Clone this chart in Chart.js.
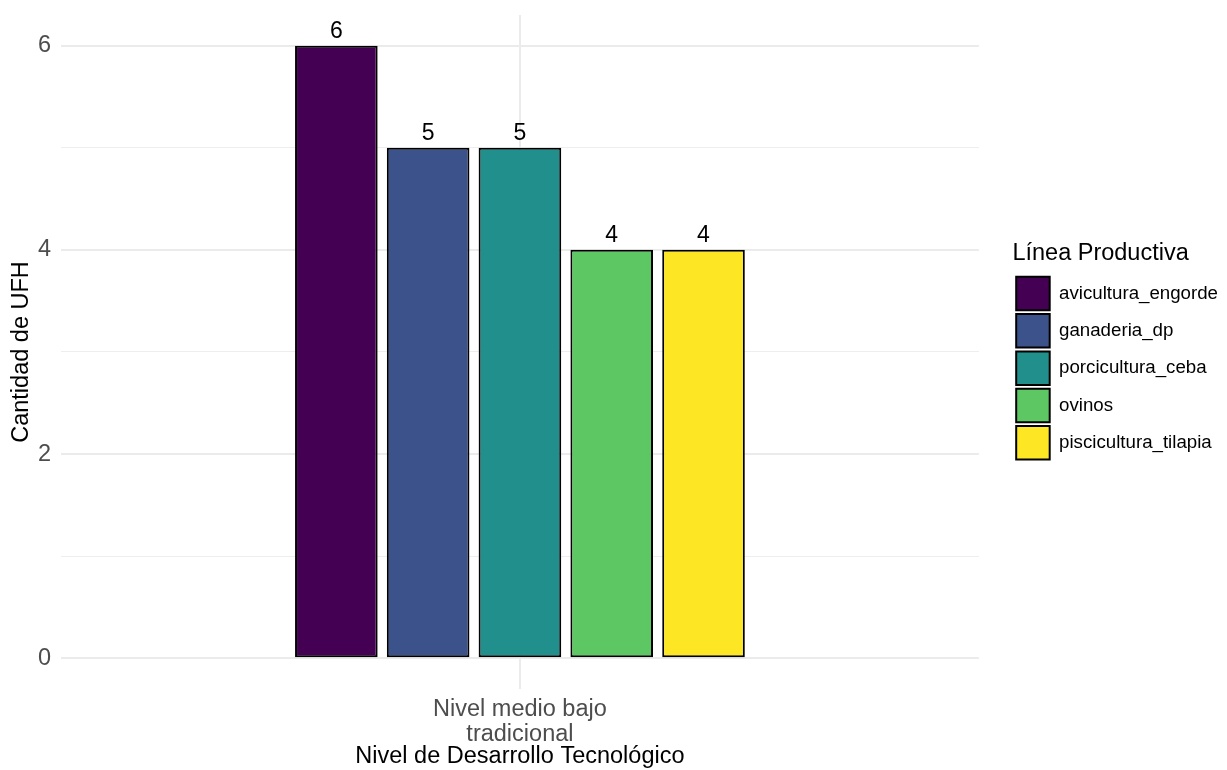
<!DOCTYPE html>
<html>
<head>
<meta charset="utf-8">
<script src="https://cdn.jsdelivr.net/npm/chart.js@4/dist/chart.umd.min.js"></script>
<style>
  html, body { margin: 0; padding: 0; background: #ffffff; }
  #wrap { width: 1227px; height: 770px; }
</style>
</head>
<body>
<div id="wrap"><canvas id="c" width="1227" height="770"></canvas></div>
<script>
// ---- data ----
const categories = [["Nivel medio bajo", "tradicional"]];
const seriesNames = ["avicultura_engorde", "ganaderia_dp", "porcicultura_ceba", "ovinos", "piscicultura_tilapia"];
const avicultura_engorde = [6];
const ganaderia_dp = [5];
const porcicultura_ceba = [5];
const ovinos = [4];
const piscicultura_tilapia = [4];
const seriesColors = ["#440154", "#3B528B", "#21908C", "#5DC863", "#FDE725"];
const yTicks = [0, 1, 2, 3, 4, 5, 6];
const yMajorTicks = [0, 2, 4, 6];

const seriesValues = [avicultura_engorde, ganaderia_dp, porcicultura_ceba, ovinos, piscicultura_tilapia];
const FONT = "'Liberation Sans', Arial, sans-serif";

const valueLabels = {
  id: 'valueLabels',
  afterDatasetsDraw(chart) {
    const ctx = chart.ctx;
    ctx.save();
    ctx.font = "23px " + FONT;
    ctx.fillStyle = "#000000";
    ctx.textAlign = "center";
    ctx.textBaseline = "alphabetic";
    chart.data.datasets.forEach((ds, i) => {
      const meta = chart.getDatasetMeta(i);
      meta.data.forEach((el, j) => {
        ctx.fillText(String(ds.data[j]), el.x, el.y - 8);
      });
    });
    ctx.restore();
  }
};

new Chart(document.getElementById('c'), {
  type: 'bar',
  data: {
    labels: categories,
    datasets: seriesNames.map((name, i) => ({
      label: name,
      data: seriesValues[i],
      backgroundColor: seriesColors[i],
      borderColor: '#000000',
      borderWidth: 2,
      borderSkipped: false,
      categoryPercentage: 0.5,
      barPercentage: 0.9
    }))
  },
  options: {
    responsive: false,
    animation: false,
    layout: { padding: { left: 14.5, right: -1, top: 15, bottom: 10.8 } },
    scales: {
      x: {
        grid: { offset: false, color: '#ebebeb', lineWidth: 2, drawTicks: false },
        border: { display: false },
        ticks: { color: '#4d4d4d', font: { family: FONT, size: 23.5, lineHeight: 1.06 }, padding: 8, maxRotation: 0 },
        title: { display: true, text: 'Nivel de Desarrollo Tecnológico', color: '#000000',
                 font: { family: FONT, size: 23.5, lineHeight: 0.187 }, padding: { top: 0, bottom: 0 } }
      },
      y: {
        min: -0.3,
        max: 6.3,
        afterBuildTicks: (axis) => { axis.ticks = yTicks.map(v => ({ value: v })); },
        grid: {
          color: (c) => (c.tick && yMajorTicks.includes(c.tick.value)) ? '#ebebeb' : '#eeeeee',
          lineWidth: (c) => (c.tick && yMajorTicks.includes(c.tick.value)) ? 2 : 1,
          drawTicks: false
        },
        border: { display: false },
        ticks: {
          color: '#4d4d4d', font: { family: FONT, size: 23.5, lineHeight: 0.4 }, padding: 10,
          callback: (v) => yMajorTicks.includes(v) ? String(v) : ''
        },
        title: { display: true, text: 'Cantidad de UFH', color: '#000000',
                 font: { family: FONT, size: 23.5, lineHeight: 0.57 }, padding: { top: 0, bottom: 0 } }
      },
      gap: {
        type: 'linear',
        position: 'right',
        display: true,
        grid: { display: false },
        border: { display: false },
        ticks: { display: false },
        afterFit: (s) => { s.width = 33.5; }
      }
    },
    plugins: {
      tooltip: { enabled: false },
      legend: {
        position: 'right',
        align: 'center',
        fullSize: false,
        maxWidth: 240,
        title: { display: true, text: 'Línea Productiva', color: '#000000',
                 font: { family: FONT, size: 23.5, lineHeight: 1.2 }, padding: { top: 1, bottom: 3.1 }, position: 'start' },
        labels: {
          color: '#000000',
          font: { family: FONT, size: 18.7 },
          boxWidth: 33.5,
          boxHeight: 33.5,
          padding: 3.8
        }
      }
    }
  },
  plugins: [valueLabels]
});
</script>
</body>
</html>
